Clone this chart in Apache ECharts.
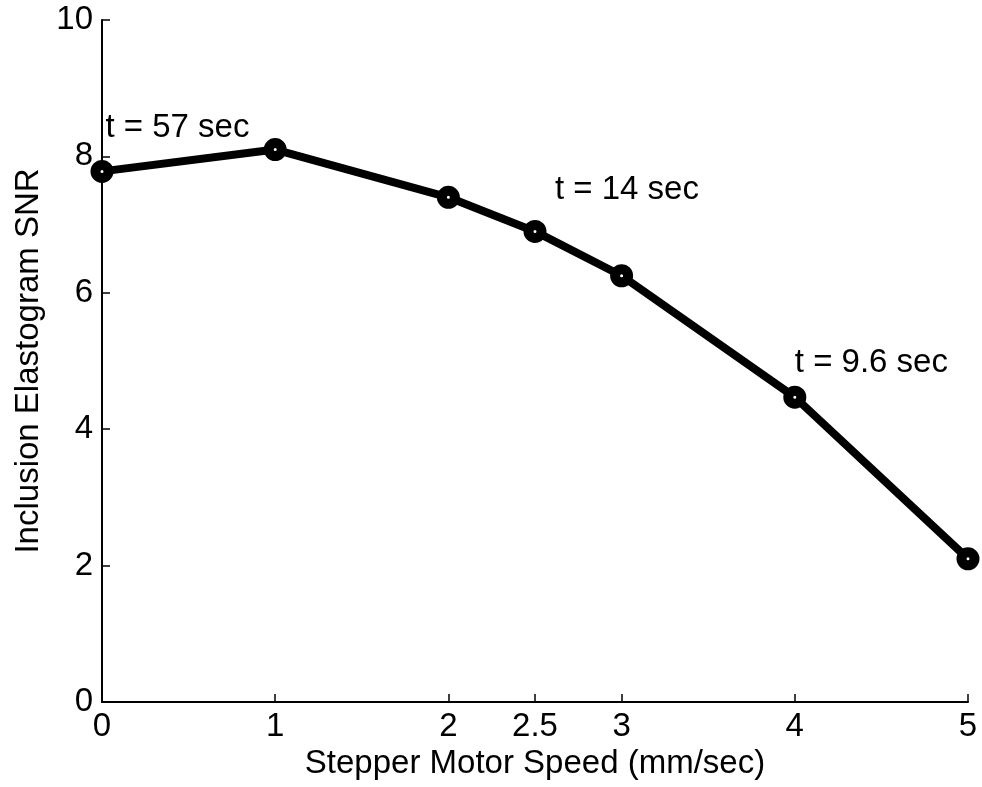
<!DOCTYPE html>
<html>
<head>
<meta charset="utf-8">
<script src="https://cdn.jsdelivr.net/npm/echarts@6/dist/echarts.min.js"></script>
<style>
html,body{margin:0;padding:0;background:#fff;}
#chart{width:982px;height:787px;}
</style>
</head>
<body>
<div id="chart"></div>
<script>
// Stepper motor speed (mm/sec) vs inclusion elastogram SNR
const speeds = [0, 1, 2, 2.5, 3, 4, 5];
const snr = [7.78, 8.1, 7.4, 6.9, 6.25, 4.47, 2.1];
const xTicks = [0, 1, 2, 2.5, 3, 4, 5];
const yTicks = [0, 2, 4, 6, 8, 10];

// Acquisition-time notes
const noteX = [0.02, 2.615, 4.0];
const noteY = [8.42, 7.51, 4.97];
const noteText = ['t = 57 sec', 't = 14 sec', 't = 9.6 sec'];

const font = 'Liberation Sans, Arial, sans-serif';
const fs = 33;
const chart = echarts.init(document.getElementById('chart'));

chart.setOption({
  backgroundColor: '#fff',
  animation: false,
  grid: { left: 102, right: 14, top: 20, bottom: 85, containLabel: false },
  xAxis: {
    type: 'value', min: 0, max: 5,
    name: 'Stepper Motor Speed (mm/sec)', nameLocation: 'middle', nameGap: 44,
    nameTextStyle: { fontFamily: font, fontSize: fs, color: '#000' },
    axisLine: { lineStyle: { color: '#000', width: 2 } },
    axisTick: { inside: true, length: 8, customValues: xTicks, lineStyle: { color: '#000', width: 1.5 } },
    axisLabel: { customValues: xTicks, margin: 8, fontFamily: font, fontSize: fs, color: '#000' },
    splitLine: { show: false }
  },
  yAxis: {
    type: 'value', min: 0, max: 10, interval: 2,
    name: 'Inclusion Elastogram SNR', nameLocation: 'middle', nameGap: 56,
    nameTextStyle: { fontFamily: font, fontSize: fs, color: '#000' },
    axisLine: { show: true, lineStyle: { color: '#000', width: 2 } },
    axisTick: { show: true, inside: true, length: 8, customValues: yTicks, lineStyle: { color: '#000', width: 1.5 } },
    axisLabel: { customValues: yTicks, margin: 9, fontFamily: font, fontSize: fs, color: '#000' },
    splitLine: { show: false }
  },
  series: [
    {
      type: 'line',
      data: speeds.map((s, i) => [s, snr[i]]),
      lineStyle: { color: '#000', width: 8 },
      symbol: 'circle', symbolSize: 13,
      itemStyle: { color: '#fff', borderColor: '#000', borderWidth: 10 },
      z: 3
    },
    {
      type: 'scatter',
      symbolSize: 0,
      itemStyle: { opacity: 1 },
      data: noteX.map((x, i) => ({
        value: [x, noteY[i]],
        label: { formatter: noteText[i] }
      })),
      label: { show: true, position: 'right', distance: 0, fontFamily: font, fontSize: fs, color: '#000' },
      silent: true,
      z: 4
    }
  ]
});
</script>
</body>
</html>
